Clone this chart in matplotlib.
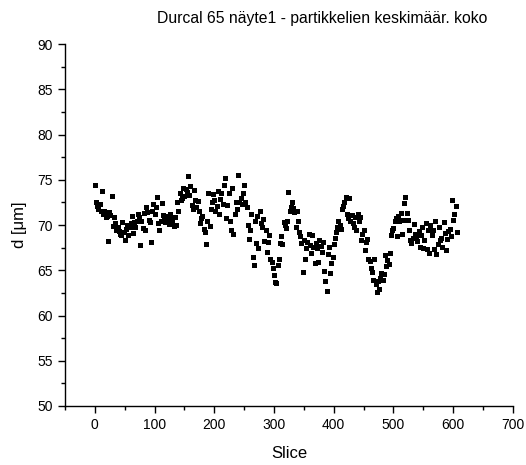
import matplotlib
matplotlib.use("Agg")
import matplotlib.pyplot as plt
from matplotlib.ticker import MultipleLocator

plt.rcParams['font.family'] = ['Liberation Sans', 'DejaVu Sans']

title = "Durcal 65 näyte1 - partikkelien keskimäär. koko"
x_label = "Slice"
y_label = "d [μm]"

# mean particle size read per slice (slice 0 .. 607); every second slice is plotted
d_values = [
    74.4, 72.8, 72.5, 73.0, 72.1, 72.7, 71.8, 72.9, 72.3, 73.3,
    71.6, 72.6, 73.8, 72.0, 71.2, 72.4, 71.5, 72.1, 70.9, 71.7,
    71.0, 72.0, 68.2, 70.6, 71.4, 70.3, 71.1, 70.1, 73.2, 70.7,
    69.9, 70.5, 70.9, 69.6, 70.2, 71.0, 69.4, 70.4, 69.8, 70.6,
    69.3, 70.0, 69.0, 69.7, 68.9, 69.5, 70.3, 68.6, 69.2, 69.9,
    68.4, 69.1, 69.6, 68.7, 70.0, 69.3, 68.9, 70.4, 69.8, 71.2,
    70.2, 69.5, 71.0, 70.6, 69.1, 71.5, 70.3, 70.8, 69.8, 71.9,
    70.5, 69.6, 71.2, 70.0, 70.9, 69.3, 67.8, 71.6, 70.4, 71.0,
    69.7, 70.7, 71.3, 70.2, 69.5, 70.9, 72.0, 70.1, 71.4, 69.9,
    70.6, 71.1, 70.3, 71.8, 68.1, 70.8, 71.5, 70.0, 72.3, 70.7,
    71.2, 70.4, 72.0, 70.9, 73.1, 71.6, 70.2, 71.0, 69.4, 71.8,
    70.5, 71.3, 72.4, 70.0, 71.1, 69.8, 70.7, 71.9, 70.3, 72.2,
    71.0, 69.6, 70.6, 71.5, 70.1, 72.6, 71.2, 69.3, 70.8, 71.7,
    70.4, 71.4, 69.9, 72.1, 70.9, 71.3, 70.0, 71.8, 72.5, 70.6,
    71.6, 72.3, 73.5, 71.1, 72.8, 71.9, 73.0, 72.2, 74.1, 71.5,
    73.2, 72.6, 74.0, 72.9, 73.7, 72.4, 75.4, 74.9, 73.3, 72.7,
    74.3, 73.0, 72.2, 73.6, 71.8, 72.5, 73.9, 71.6, 72.8, 71.3,
    72.0, 71.0, 72.7, 70.6, 71.5, 72.3, 70.2, 71.2, 70.8, 69.8,
    71.0, 70.3, 69.6, 70.7, 69.2, 70.0, 67.9, 69.5, 70.4, 68.8,
    73.6, 72.4, 69.9, 73.0, 71.8, 74.2, 72.6, 70.6, 73.4, 71.9,
    72.8, 74.5, 71.5, 73.3, 72.1, 70.9, 73.8, 72.5, 71.2, 74.0,
    72.9, 70.5, 73.5, 71.7, 72.3, 70.2, 74.4, 71.0, 75.2, 73.1,
    70.8, 74.7, 72.2, 69.9, 73.6, 71.4, 70.4, 72.8, 69.5, 71.9,
    74.1, 70.6, 69.0, 73.2, 71.2, 75.3, 72.5, 74.6, 71.8, 73.9,
    75.5, 73.4, 72.6, 74.8, 73.0, 74.2, 72.3, 75.0, 73.6, 72.9,
    74.4, 73.2, 72.5, 73.8, 72.0, 71.5, 70.0, 69.3, 68.5, 70.6,
    69.5, 68.8, 71.2, 67.8, 66.5, 69.9, 65.6, 68.4, 70.5, 69.1,
    68.0, 69.6, 71.0, 68.7, 67.5, 69.3, 71.6, 68.9, 70.2, 67.3,
    69.8, 68.5, 70.7, 69.0, 68.2, 67.4, 69.5, 68.6, 67.0, 69.2,
    68.1, 66.8, 68.9, 67.6, 66.2, 68.4, 65.9, 67.2, 65.3, 64.8,
    64.5, 66.0, 63.7, 65.2, 63.6, 64.9, 65.6, 66.6, 66.3, 67.4,
    68.0, 67.1, 68.8, 69.5, 67.9, 69.2, 70.3, 68.6, 70.0, 71.0,
    69.7, 71.4, 70.5, 72.2, 73.7, 70.9, 71.6, 70.2, 72.0, 71.3,
    72.6, 70.8, 71.9, 70.5, 71.4, 72.3, 69.8, 70.9, 71.6, 69.4,
    70.4, 68.3, 69.2, 67.6, 68.8, 67.1, 68.0, 66.6, 64.8, 67.4,
    68.4, 67.0, 66.3, 68.7, 67.5, 66.0, 68.1, 67.3, 69.0, 66.7,
    67.8, 68.5, 66.9, 67.4, 68.9, 66.4, 67.6, 68.2, 65.8, 67.1,
    68.0, 66.6, 67.5, 68.6, 65.9, 67.2, 68.3, 66.8, 67.7, 66.1,
    67.0, 65.6, 68.1, 66.6, 64.9, 66.2, 63.8, 67.4, 62.7, 65.9,
    66.8, 65.4, 67.6, 66.1, 64.7, 67.0, 65.8, 68.2, 66.5, 67.3,
    67.9, 66.9, 68.6, 67.5, 69.2, 68.0, 69.8, 68.7, 70.4, 69.1,
    70.0, 71.2, 69.6, 70.7, 71.8, 70.3, 72.1, 71.0, 72.6, 71.5,
    73.1, 72.3, 71.2, 72.9, 70.8, 72.0, 73.0, 71.6, 70.5, 72.4,
    71.1, 72.8, 70.2, 71.7, 69.8, 72.5, 70.9, 71.4, 69.5, 70.6,
    71.2, 69.9, 70.4, 68.8, 70.9, 69.4, 68.3, 70.1, 69.0, 67.7,
    69.5, 68.6, 67.2, 69.0, 68.1, 66.8, 68.5, 67.8, 66.3, 67.4,
    66.0, 66.9, 65.3, 66.5, 64.8, 65.9, 63.9, 65.4, 66.2, 64.3,
    63.5, 64.9, 62.6, 65.1, 63.8, 64.4, 62.9, 65.6, 64.1, 63.3,
    64.7, 65.8, 63.9, 66.0, 64.6, 65.2, 66.7, 64.0, 65.5, 67.0,
    66.1, 67.6, 65.7, 68.3, 66.9, 67.8, 68.9, 67.3, 69.4, 68.2,
    69.7, 68.6, 70.4, 69.1, 70.8, 69.5, 68.8, 70.2, 71.0, 69.6,
    70.5, 69.3, 71.3, 70.0, 69.0, 71.8, 70.6, 69.4, 72.4, 70.1,
    73.1, 72.2, 71.3, 69.8, 70.6, 68.9, 69.5, 70.3, 68.4, 69.2,
    68.0, 69.7, 68.6, 67.4, 70.1, 68.3, 69.0, 67.8, 68.8, 69.6,
    68.2, 67.0, 69.3, 68.5, 67.6, 65.8, 68.9, 67.2, 69.8, 68.0,
    67.5, 69.1, 68.4, 66.6, 70.2, 68.7, 67.3, 65.6, 69.4, 68.1,
    66.9, 68.6, 70.0, 67.7, 68.9, 66.2, 69.5, 68.3, 67.4, 69.0,
    70.4, 68.0, 66.8, 69.2, 67.9, 68.7, 69.8, 67.5, 68.4, 70.1,
    68.6, 69.5, 67.6, 68.9, 70.3, 68.2, 69.1, 67.8, 67.2, 69.7,
    68.5, 70.0, 69.3, 68.1, 69.6, 70.5, 68.8, 69.9, 72.8, 71.9,
    70.6, 69.4, 71.2, 70.3, 72.1, 69.7, 69.2, 70.0,
]
slices = list(range(len(d_values)))
plot_slices = slices[::2]
plot_values = d_values[::2]

x_major_ticks = [0, 100, 200, 300, 400, 500, 600, 700]
y_major_ticks = [50, 55, 60, 65, 70, 75, 80, 85, 90]

fig = plt.figure(figsize=(5.26, 4.65), dpi=100)
ax = fig.add_axes([0.1236, 0.127, 0.8514, 0.778])

ax.plot(plot_slices, plot_values, linestyle='none', marker='s', markersize=3.6,
        color='black', markeredgewidth=0)

ax.set_xlim(-50, 700)
ax.set_ylim(50, 90)
ax.set_xticks(x_major_ticks)
ax.set_yticks(y_major_ticks)
ax.xaxis.set_minor_locator(MultipleLocator(50))
ax.yaxis.set_minor_locator(MultipleLocator(2.5))
ax.tick_params(which='major', direction='out', length=5, width=1, labelsize=10)
ax.tick_params(which='minor', direction='out', length=3, width=1)

for s in ['top', 'right']:
    ax.spines[s].set_visible(False)
for s in ['left', 'bottom']:
    ax.spines[s].set_linewidth(1)

ax.set_xlabel(x_label, fontsize=12, labelpad=10)
ax.set_ylabel(y_label, fontsize=12, labelpad=8)
fig.text(322 / 526, 1 - 18 / 465, title, fontsize=11.3, ha='center', va='center')

fig.savefig("out.png", dpi=100)
